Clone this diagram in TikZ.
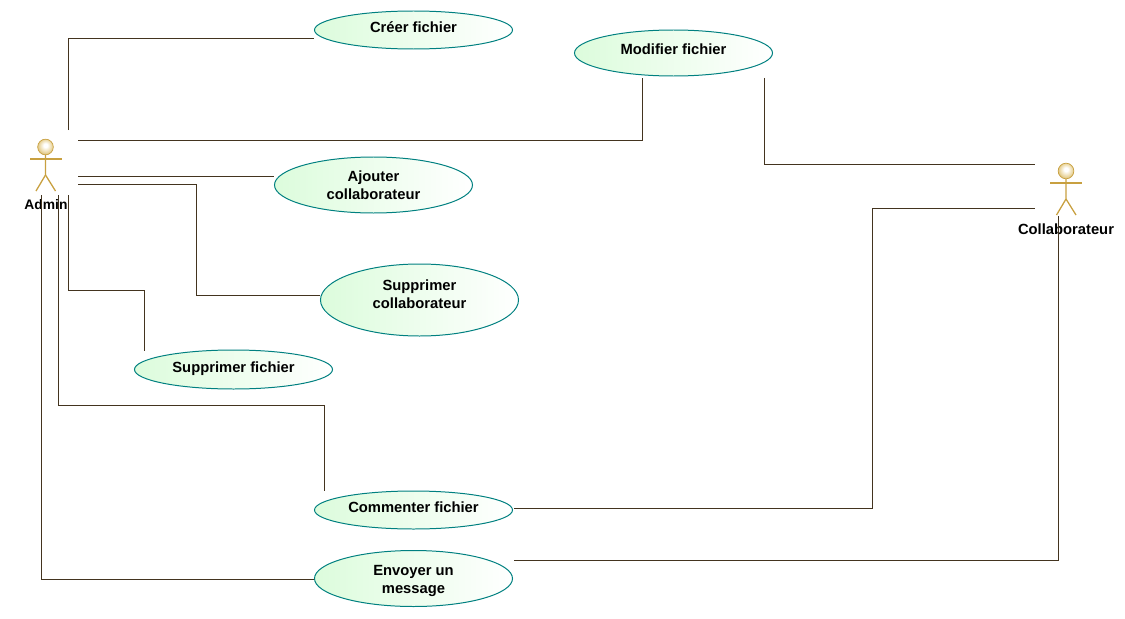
\documentclass[tikz,border=0pt]{standalone}
\usepackage{fontspec}
\setmainfont{Liberation Sans}
\usepackage{xcolor}
\usetikzlibrary{shapes.geometric}
\definecolor{linkcol}{HTML}{43341F}
\definecolor{casecol}{HTML}{008080}
\definecolor{casefill}{HTML}{DCFCDC}
\definecolor{actorcol}{HTML}{C8A040}
\definecolor{actormid}{HTML}{EBD8A4}
\definecolor{actoredge}{HTML}{B08C3C}
\pgfdeclareradialshading{actorball}{\pgfpoint{0bp}{6bp}}{color(0bp)=(white);color(6bp)=(white);color(20bp)=(actormid);color(36bp)=(actorcol);color(50bp)=(actoredge)}
\tikzset{
  usecase/.style={ellipse,draw=casecol,line width=0.85pt,left color=casefill,right color=white,minimum width=5.94cm,inner sep=0pt},
  casetext/.style={inner sep=0pt,align=center,font=\fontsize{12.6}{15.3}\selectfont\bfseries},
  actorlabel/.style={inner sep=0pt,font=\fontsize{12.6}{15.3}\selectfont\bfseries},
  actorhead/.style={circle,draw=actorcol,line width=0.6pt,shade,shading=actorball,minimum size=0.47cm,inner sep=0pt},
  actorline/.style={draw=actorcol,line width=1.1pt},
  link/.style={draw=linkcol,line width=0.85pt}
}
\begin{document}
\begin{tikzpicture}[x=0.03cm,y=-0.03cm]
\useasboundingbox (0,0) rectangle (1125,618);
% use cases
\node[usecase,minimum height=1.14cm,label={[casetext,yshift=2.5pt]center:Créer fichier}] (creer) at (413.5,30) {};
\node[usecase,minimum height=1.38cm,label={[casetext,yshift=3.4pt]center:Modifier fichier}] (modifier) at (673.5,53) {};
\node[usecase,minimum height=1.68cm,label={[casetext]center:{Ajouter\\collaborateur}}] (ajouter) at (373.5,185) {};
\node[usecase,minimum height=2.16cm,label={[casetext,yshift=5.1pt]center:{Supprimer\\collaborateur}}] (supprimerC) at (419.5,300) {};
\node[usecase,minimum height=1.17cm,label={[casetext,yshift=0.8pt]center:Supprimer fichier}] (supprimerF) at (233.5,369.5) {};
\node[usecase,minimum height=1.14cm,label={[casetext,yshift=2.5pt]center:Commenter fichier}] (commenter) at (413.5,510) {};
\node[usecase,minimum height=1.68cm,label={[casetext,yshift=-2.5pt]center:{Envoyer un\\message}}] (envoyer) at (413.5,578.5) {};
% actors
\node[actorhead] (adminHead) at (45.5,147) {};
\draw[actorline] (30,159)--(62,159);
\draw[actorline] (adminHead)--(45.5,175)--(36,191);
\draw[actorline] (45.5,175)--(55.5,191);
\node[actorlabel,font=\fontsize{11.8}{15.3}\selectfont\bfseries] (admin) at (46,205) {Admin};
\node[actorhead] (collabHead) at (1066,171) {};
\draw[actorline] (1050,183)--(1082,183);
\draw[actorline] (collabHead)--(1066,199)--(1056.5,215);
\draw[actorline] (1066,199)--(1076,215);
\node[actorlabel] (collab) at (1066,229) {Collaborateur};
% free ends beside the actors
\coordinate (adminA) at (68.5,130);
\coordinate (adminB) at (78,140.5);
\coordinate (adminC) at (78,176.5);
\coordinate (adminD) at (78,184.5);
\coordinate (adminE) at (68.5,195);
\coordinate (adminF) at (58.5,195);
\coordinate (adminG) at (41.5,195);
\coordinate (collabA) at (1035,164.5);
\coordinate (collabB) at (1035,208.5);
\coordinate (collabC) at (1058.5,216);
% free ends beside the use cases
\coordinate (modifierA) at (642.5,78);
\coordinate (modifierB) at (764.5,78);
\coordinate (supprimerEnd) at (144.5,351);
\coordinate (commenterA) at (324.5,491);
\coordinate (commenterB) at (514,508.5);
\coordinate (envoyerA) at (514,560.5);
% links
\draw[link] (adminA)|-(creer.west|-0,38.5);
\draw[link] (adminB)-|(modifierA);
\draw[link] (adminC)--(ajouter.west|-adminC);
\draw[link] (adminD)-|(196.5,295.5)--(supprimerC.west|-0,295.5);
\draw[link] (adminE)|-(144.5,290.5)--(supprimerEnd);
\draw[link] (adminF)|-(324.5,405.5)--(commenterA);
\draw[link] (adminG)|-(envoyer.west|-0,579.5);
\draw[link] (modifierB)|-(collabA);
\draw[link] (commenterB)-|(872.5,208.5)--(collabB);
\draw[link] (envoyerA)-|(collabC);
\end{tikzpicture}
\end{document}
